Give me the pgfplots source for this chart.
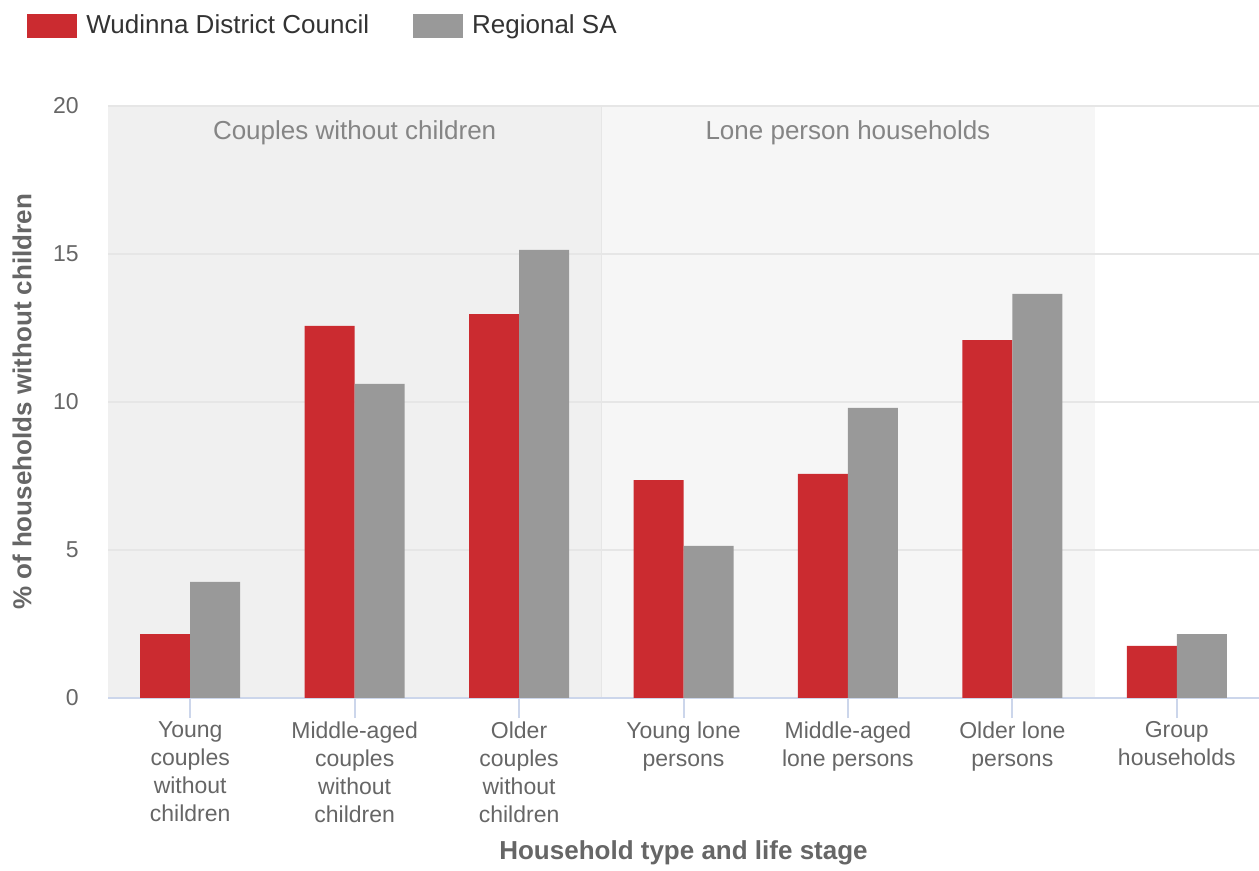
\documentclass[border=0pt]{standalone}
\usepackage{pgfplots}
\pgfplotsset{compat=1.18}
\usepackage{fontspec}
\setmainfont{Liberation Sans}
\definecolor{cred}{HTML}{CB2B30}
\definecolor{cgray}{HTML}{999999}
\definecolor{bgA}{HTML}{F0F0F0}
\definecolor{bgB}{HTML}{F6F6F6}
\definecolor{gridc}{HTML}{E6E6E6}
\definecolor{axc}{HTML}{CCD6EB}
\definecolor{tickc}{HTML}{666666}
\definecolor{legc}{HTML}{333333}
\begin{document}
\begin{tikzpicture}
\begin{axis}[
  name=ax,
  set layers,
  scale only axis,
  width=575.5pt, height=296pt,
  xmin=-0.5, xmax=6.5, ymin=0, ymax=20,
  ybar=0pt, bar width=25pt,
  axis x line*=bottom, axis y line*=left,
  x axis line style={axc, line width=1pt, -},
  y axis line style={draw=none},
  xtick={0,...,6},
  xticklabels={{Young\\couples\\without\\children},{Middle-aged\\couples\\without\\children},{Older\\couples\\without\\children},{Young lone\\persons},{Middle-aged\\lone persons},{Older lone\\persons},{Group\\households}},
  xticklabel style={align=center, font=\fontsize{11.5}{14}\selectfont, text=tickc, inner sep=0pt, yshift=-1.5pt},
  tick align=outside,
  xtick style={draw=axc, line width=1pt},
  major tick length=10pt,
  ytick={0,5,10,15,20},
  ymajorgrids,
  grid style={gridc, line width=1pt},
  yticklabel style={font=\fontsize{11.5}{14}\selectfont, text=tickc, inner sep=0pt, xshift=-4.5pt},
  ytick style={draw=none},
  /pgf/number format/assume math mode=true,
  xlabel={Household type and life stage},
  xlabel style={at={(axis description cs:0.5,0)}, anchor=center, yshift=-77.5pt, font=\fontsize{13}{15}\selectfont\bfseries, text=tickc},
  ylabel={\% of households without children},
  ylabel style={at={([xshift=-43pt]axis description cs:0,0.5)}, anchor=center, font=\fontsize{13}{15}\selectfont\bfseries, text=tickc},
  legend columns=2,
  legend style={at={(rel axis cs:0,1)}, anchor=south west, xshift=-40.5pt, yshift=34pt,
    draw=none, fill=none, inner sep=0pt, font=\fontsize{13}{15}\selectfont,
    nodes={inner sep=0pt, text=legc},
    /tikz/every odd column/.append style={column sep=4.5pt},
    /tikz/every even column/.append style={column sep=22pt}},
  legend image code/.code={\fill[#1] (0pt,-6pt) rectangle (25pt,6pt);},
]
\pgfonlayer{axis background}
\fill[bgA] (axis cs:-0.5,0) rectangle (axis cs:2.5,20);
\fill[bgB] (axis cs:2.5,0) rectangle (axis cs:5.5,20);
\draw[gridc, line width=0.5pt] (axis cs:2.5,0) -- (axis cs:2.5,20);
\endpgfonlayer
\addplot[fill=cred, draw=none] coordinates {(0,2.16) (1,12.57) (2,12.97) (3,7.36) (4,7.57) (5,12.09) (6,1.76)};
\addplot[fill=cgray, draw=none] coordinates {(0,3.92) (1,10.61) (2,15.14) (3,5.14) (4,9.80) (5,13.65) (6,2.16)};
\legend{Wudinna District Council, Regional SA}
\node[text=tickc!80!white, font=\fontsize{13}{15}\selectfont] at ([yshift=-13.5pt]axis cs:1,20) {Couples without children};
\node[text=tickc!80!white, font=\fontsize{13}{15}\selectfont] at ([yshift=-13.5pt]axis cs:4,20) {Lone person households};
\end{axis}
\pgfresetboundingbox
\path ([xshift=-54pt,yshift=-86pt]ax.south west) rectangle ([yshift=53pt]ax.north east);
\end{tikzpicture}
\end{document}
